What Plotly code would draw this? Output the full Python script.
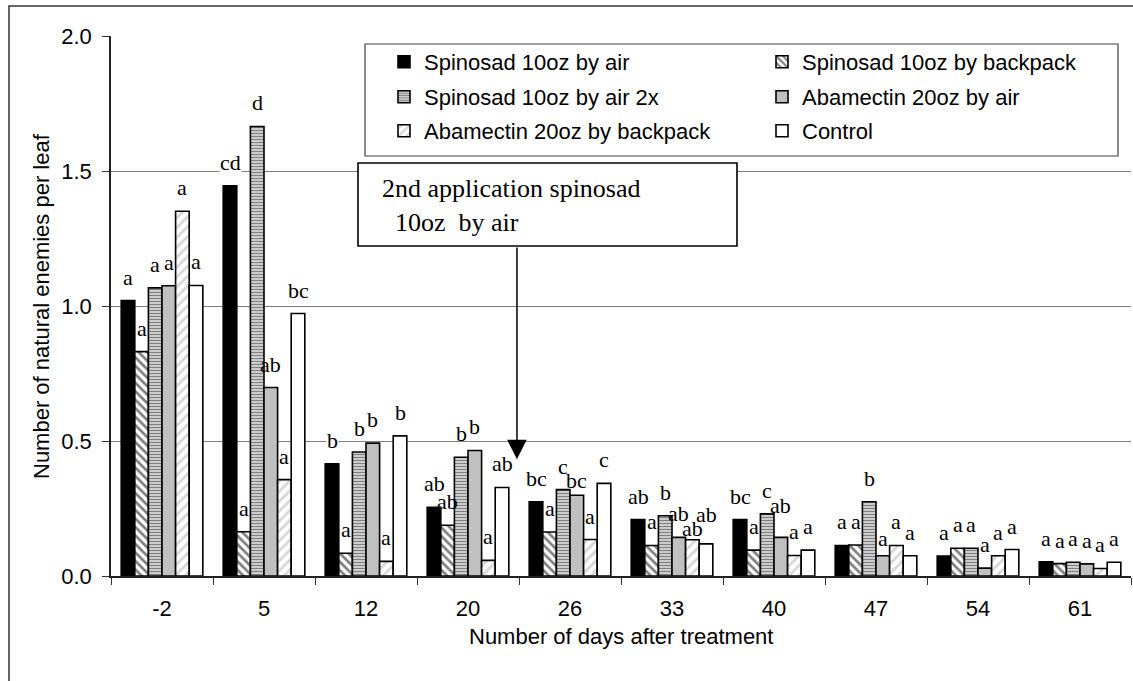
import plotly.graph_objects as go

# Days after treatment (category axis)
days = ["-2", "5", "12", "20", "26", "33", "40", "47", "54", "61"]

# Mean number of natural enemies per leaf for each treatment
spinosad_air = [1.02, 1.445, 0.416, 0.254, 0.275, 0.209, 0.209, 0.113, 0.074, 0.053]
spinosad_backpack = [0.831, 0.164, 0.084, 0.188, 0.163, 0.113, 0.096, 0.115, 0.103, 0.046]
spinosad_air_2x = [1.067, 1.665, 0.459, 0.44, 0.32, 0.223, 0.23, 0.275, 0.103, 0.051]
abamectin_air = [1.075, 0.698, 0.492, 0.465, 0.299, 0.143, 0.143, 0.075, 0.029, 0.045]
abamectin_backpack = [1.351, 0.357, 0.054, 0.058, 0.135, 0.134, 0.076, 0.113, 0.075, 0.028]
control = [1.076, 0.972, 0.519, 0.328, 0.343, 0.119, 0.096, 0.075, 0.098, 0.051]

# Mean separation letters
letters_spinosad_air = ["a", "cd", "b", "ab", "bc", "ab", "bc", "a", "a", "a"]
letters_spinosad_backpack = ["a", "a", "a", "ab", "a", "a", "a", "a", "a", "a"]
letters_spinosad_air_2x = ["a", "d", "b", "b", "c", "b", "c", "b", "a", "a"]
letters_abamectin_air = ["a", "ab", "b", "b", "bc", "ab", "ab", "a", "a", "a"]
letters_abamectin_backpack = ["a", "a", "a", "a", "a", "ab", "a", "a", "a", "a"]
letters_control = ["a", "bc", "b", "ab", "c", "ab", "a", "a", "a", "a"]

series_names = [
    "Spinosad 10oz by air",
    "Spinosad 10oz by backpack",
    "Spinosad 10oz by air 2x",
    "Abamectin 20oz by air",
    "Abamectin 20oz by backpack",
    "Control",
]
series_values = [spinosad_air, spinosad_backpack, spinosad_air_2x,
                 abamectin_air, abamectin_backpack, control]
series_letters = [letters_spinosad_air, letters_spinosad_backpack, letters_spinosad_air_2x,
                  letters_abamectin_air, letters_abamectin_backpack, letters_control]

# Fill styles for each treatment
fills = [
    dict(color="black"),
    dict(color="white", pattern=dict(shape="\\", fgcolor="black", bgcolor="white", size=6, solidity=0.45)),
    dict(color="white", pattern=dict(shape="-", fgcolor="black", bgcolor="white", size=3, solidity=0.6)),
    dict(color="#c0c0c0"),
    dict(color="white", pattern=dict(shape="/", fgcolor="#b0b0b0", bgcolor="white", size=7, solidity=0.4)),
    dict(color="white"),
]
# legend rows (two entries per row) and entry widths
legend_ids = ["legend", "legend", "legend2", "legend2", "legend3", "legend3"]
legend_widths = [333, 290, 333, 290, 333, 290]

# vertical nudges (px) for letters that would otherwise collide: (series, day) -> px
label_nudge = {(3, 4): -9, (3, 6): 8, (3, 7): -6, (4, 5): -12, (5, 5): 6}

W, H = 1133, 681
ML, MR, MT, MB = 111, 2, 36, 105
PW, PH = W - ML - MR, H - MT - MB


def px_x(px):
    return (px - ML) / PW


def px_y(py):
    return (H - MB - py) / PH


SANS = "Liberation Sans, Arial, sans-serif"
SERIF = "Liberation Serif, Times New Roman, serif"
BARGAP = 0.2
n_series = len(series_names)
bar_w = (1 - BARGAP) / n_series

fig = go.Figure()
for name, vals, fill, lg, lw in zip(series_names, series_values, fills, legend_ids, legend_widths):
    fig.add_trace(go.Bar(
        x=days, y=vals, name=name, legend=lg, legendwidth=lw,
        marker=dict(line=dict(color="black", width=1.6), **fill),
    ))

annotations = []
# significance letters above each bar
for j, (vals, lets) in enumerate(zip(series_values, series_letters)):
    for i, (v, t) in enumerate(zip(vals, lets)):
        neighbours = []
        if j > 0:
            neighbours.append(series_values[j - 1][i])
        if j < n_series - 1:
            neighbours.append(series_values[j + 1][i])
        next_to_taller = any(nv > v for nv in neighbours)
        annotations.append(dict(
            x=i - (1 - BARGAP) / 2 + (j + 0.5) * bar_w, y=v, xref="x", yref="y",
            text=t, showarrow=False, xanchor="center", yanchor="bottom",
            yshift=10 + label_nudge.get((j, i), 0),
            font=dict(family=SERIF, size=22, color="black"),
            bgcolor="rgba(0,0,0,0)" if next_to_taller else "white", borderpad=0,
        ))

# second application callout
annotations.append(dict(
    x=px_x(380), y=px_y(205.5), xref="paper", yref="paper",
    xanchor="left", yanchor="middle", align="left", showarrow=False,
    text="2nd application spinosad<br>  10oz  by air",
    font=dict(family=SERIF, size=26, color="black"),
))
annotations.append(dict(
    x=3.48, y=0.432, xref="x", yref="y", ax=3.48, ay=(H - MB - 246) / PH * 2,
    axref="x", ayref="y", text="", showarrow=True,
    arrowhead=2, arrowsize=2.6, arrowwidth=1.5, arrowcolor="black",
))

# axis titles
annotations.append(dict(
    x=px_x(621), y=px_y(636), xref="paper", yref="paper", showarrow=False,
    xanchor="center", yanchor="middle",
    text="Number of days after treatment", font=dict(family=SANS, size=22, color="black"),
))
annotations.append(dict(
    x=px_x(41), y=px_y(306), xref="paper", yref="paper", showarrow=False, textangle=-90,
    xanchor="center", yanchor="middle",
    text="Number of natural enemies per leaf", font=dict(family=SANS, size=22, color="black"),
))

shapes = [
    # chart frame
    dict(type="rect", xref="paper", yref="paper",
         x0=px_x(9), x1=px_x(1150), y0=px_y(6), y1=px_y(700),
         line=dict(color="#333333", width=1.5), fillcolor="rgba(0,0,0,0)", layer="below"),
    # legend box
    dict(type="rect", xref="paper", yref="paper",
         x0=px_x(365), x1=px_x(1118), y0=px_y(44), y1=px_y(156),
         line=dict(color="#404040", width=1.2), fillcolor="white", layer="above"),
    # callout box
    dict(type="rect", xref="paper", yref="paper",
         x0=px_x(358), x1=px_x(737), y0=px_y(163), y1=px_y(246),
         line=dict(color="black", width=1.6), fillcolor="white", layer="above"),
]

legend_common = dict(
    orientation="h", xanchor="left", yanchor="top", x=px_x(384),
    bgcolor="rgba(0,0,0,0)", borderwidth=0,
    font=dict(family=SANS, size=22, color="black"), traceorder="normal",
)

fig.update_layout(
    width=W, height=H,
    margin=dict(l=ML, r=MR, t=MT, b=MB, autoexpand=False),
    paper_bgcolor="white", plot_bgcolor="white",
    barmode="group", bargap=BARGAP, bargroupgap=0,
    font=dict(family=SANS, size=22, color="black"),
    showlegend=True,
    legend=dict(y=px_y(41), **legend_common),
    legend2=dict(y=px_y(76), **legend_common),
    legend3=dict(y=px_y(110), **legend_common),
    annotations=annotations,
    shapes=shapes,
    xaxis=dict(
        type="category", range=[-0.5, 9.5], tickson="boundaries",
        ticks="outside", ticklen=7, tickwidth=1.2, tickcolor="#333333",
        showline=True, linecolor="#222222", linewidth=1.5, showgrid=False,
        tickfont=dict(family=SANS, size=22, color="black"), ticklabelstandoff=12,
    ),
    yaxis=dict(
        range=[0, 2], dtick=0.5, tickformat=".1f",
        ticks="outside", ticklen=7, tickwidth=1.2, tickcolor="#333333",
        showline=True, linecolor="#222222", linewidth=1.5,
        showgrid=True, gridcolor="#808080", gridwidth=1, zeroline=False,
        tickfont=dict(family=SANS, size=22, color="black"), ticklabelstandoff=6,
    ),
)

fig.write_html("out.html")
